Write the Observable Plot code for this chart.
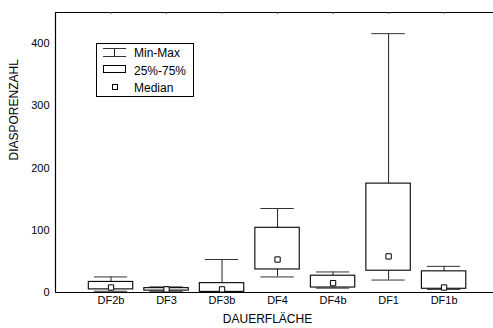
<!DOCTYPE html>
<html>
<head>
<meta charset="utf-8">
<script src="https://cdn.jsdelivr.net/npm/d3@7"></script>
<script src="https://cdn.jsdelivr.net/npm/@observablehq/plot@0.6"></script>
<style>
  html, body { margin: 0; padding: 0; background: #fff; overflow: hidden; }
  #wrap { position: relative; width: 493px; height: 328px; overflow: hidden; font-family: "Liberation Sans", Arial, sans-serif; }
  #legend { position: absolute; left: 96px; top: 43px; }
</style>
</head>
<body>
<div id="wrap"></div>
<script>
// ---- data ----
const categories = ["DF2b", "DF3", "DF3b", "DF4", "DF4b", "DF1", "DF1b"];
const minValues    = [2, 2, 0, 25, 7, 20, 5];
const q1Values     = [5, 3, 1, 37, 8, 35, 6];
const medianValues = [8, 5, 5, 53, 15, 58, 8];
const q3Values     = [17, 7, 15, 104, 27, 175, 34];
const maxValues    = [25, 9, 53, 135, 33, 416, 42];
const yMajorTicks = [0, 100, 200, 300, 400];
const yTitle = "DIASPORENZAHL";
const xTitle = "DAUERFLÄCHE";
const legendLabels = ["Min-Max", "25%-75%", "Median"];

const rows = categories.map((c, i) => ({
  i, cat: c, min: minValues[i], q1: q1Values[i], med: medianValues[i], q3: q3Values[i], max: maxValues[i]
}));
const idx = categories.map((c, i) => i);

const boxHalf = 0.4, capHalf = 0.3;
const xLo = -1, xHi = 6.89, yHi = 450;

const chart = Plot.plot({
  width: 493,
  height: 328,
  marginLeft: 55,
  marginRight: 0,
  marginTop: 12,
  marginBottom: 36,
  style: { fontFamily: "'Liberation Sans', Arial, sans-serif", fontSize: "11px", color: "#000", background: "#fff" },
  x: { type: "linear", domain: [xLo, xHi], axis: null },
  y: { domain: [0, yHi], axis: null },
  marks: [
    Plot.ruleX(rows, { x: "i", y1: "min", y2: "max", stroke: "#222", strokeWidth: 1 }),
    Plot.ruleY(rows, { y: "max", x1: d => d.i - capHalf, x2: d => d.i + capHalf, stroke: "#333", strokeWidth: 1 }),
    Plot.ruleY(rows, { y: "min", x1: d => d.i - capHalf, x2: d => d.i + capHalf, stroke: "#333", strokeWidth: 1 }),
    Plot.rect(rows, { x1: d => d.i - boxHalf, x2: d => d.i + boxHalf, y1: "q1", y2: "q3", fill: "#fff", stroke: "#000", strokeWidth: 1.1 }),
    Plot.dot(rows, { x: "i", y: "med", symbol: "square", r: 3, fill: "#fff", stroke: "#000", strokeWidth: 1 }),
    Plot.ruleY([0, yHi], { stroke: "#000", strokeWidth: 1.2 }),
    Plot.ruleX([xLo], { stroke: "#000", strokeWidth: 1.2 }),
    Plot.ruleX(idx, { x: d => d, y1: yHi, y2: yHi - 3.5, stroke: "#666" }),
    Plot.axisY({ ticks: yMajorTicks, tickSize: 0, tickPadding: 6, fontSize: 11, label: null }),
    Plot.axisX({ ticks: idx, tickFormat: i => categories[i], tickSize: 0, tickPadding: 4, fontSize: 11, label: null }),
    Plot.text([xTitle], { frameAnchor: "bottom", dx: -7, dy: 30, fontSize: 12, fill: "#000" }),
    Plot.text([yTitle], { frameAnchor: "left", rotate: -90, dx: -41.7, dy: 8, fontSize: 12, fill: "#000" })
  ]
});

const wrap = document.getElementById("wrap");
wrap.appendChild(chart);

const lg = d3.select(wrap).append("svg")
  .attr("id", "legend")
  .attr("width", 99).attr("height", 55)
  .style("font-family", "'Liberation Sans', Arial, sans-serif")
  .style("font-size", "12px");
lg.append("rect").attr("x", 0.5).attr("y", 0.5).attr("width", 97).attr("height", 53)
  .attr("fill", "#fff").attr("stroke", "#000");
lg.append("line").attr("x1", 7).attr("x2", 30).attr("y1", 5.5).attr("y2", 5.5).attr("stroke", "#333");
lg.append("line").attr("x1", 7).attr("x2", 30).attr("y1", 13.5).attr("y2", 13.5).attr("stroke", "#333");
lg.append("line").attr("x1", 18.5).attr("x2", 18.5).attr("y1", 5.5).attr("y2", 13.5).attr("stroke", "#222");
lg.append("rect").attr("x", 7.5).attr("y", 22.5).attr("width", 22).attr("height", 7)
  .attr("fill", "#fff").attr("stroke", "#000");
lg.append("rect").attr("x", 16.5).attr("y", 41.5).attr("width", 5).attr("height", 5)
  .attr("fill", "#fff").attr("stroke", "#000");
const ys = [14, 32, 49];
legendLabels.forEach((t, k) => {
  lg.append("text").attr("x", 38).attr("y", ys[k]).attr("fill", "#000").text(t);
});
</script>
</body>
</html>
